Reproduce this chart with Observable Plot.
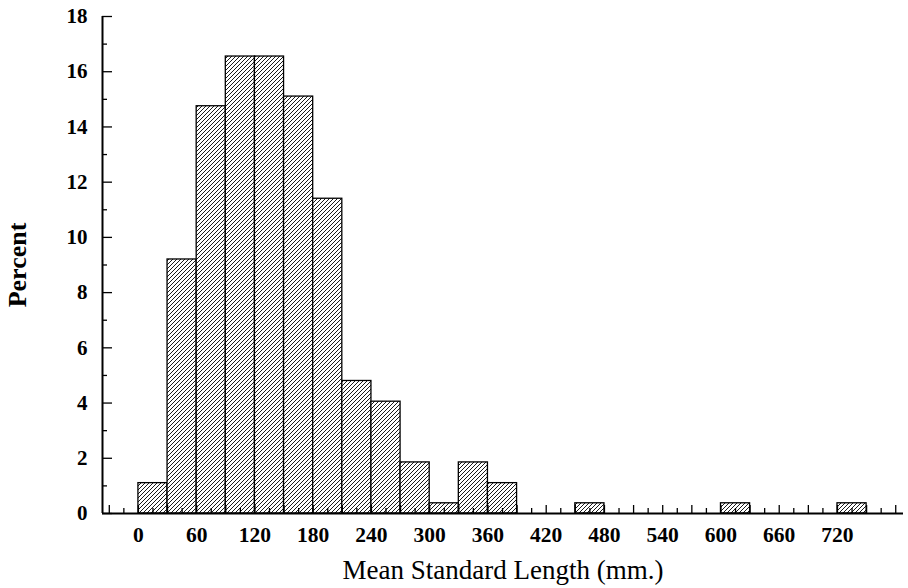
<!DOCTYPE html>
<html>
<head>
<meta charset="utf-8">
<script src="https://cdn.jsdelivr.net/npm/d3@7"></script>
<script src="https://cdn.jsdelivr.net/npm/@observablehq/plot@0.6"></script>
<style>
  html, body { margin: 0; padding: 0; background: #fff; }
</style>
</head>
<body>
<div id="chart"></div>
<script>
// Bin starts (mm) and percent of records in each 30 mm bin
const binStart = [0, 30, 60, 90, 120, 150, 180, 210, 240, 270, 300, 330, 360, 390, 420, 450, 480, 510, 540, 570, 600, 630, 660, 690, 720];
const percent  = [1.1, 9.2, 14.75, 16.55, 16.55, 15.1, 11.4, 4.8, 4.05, 1.85, 0.37, 1.85, 1.1, 0, 0, 0.37, 0, 0, 0, 0, 0.37, 0, 0, 0, 0.37];
const binWidth = 30;

const xTickLabels = [0, 60, 120, 180, 240, 300, 360, 420, 480, 540, 600, 660, 720];
const xMajorTicks = d3.range(-30, 781, 30);
const xMinorTicks = d3.range(-15, 781, 30);
const yTickLabels = [0, 2, 4, 6, 8, 10, 12, 14, 16, 18];
const yMinorTicks = [1, 3, 5, 7, 9, 11, 13, 15, 17];

const xTitle = "Mean Standard Length (mm.)";
const yTitle = "Percent";

const bins = binStart.map((b, i) => ({x1: b, x2: b + binWidth, pct: percent[i]})).filter(d => d.pct > 0);

const svg = Plot.plot({
  width: 908,
  height: 588,
  marginLeft: 102,
  marginRight: 5,
  marginTop: 16,
  marginBottom: 75,
  style: {fontFamily: "'Liberation Serif', 'DejaVu Serif', serif", background: "#fff", color: "#000"},
  x: {domain: [-37, 788]},
  y: {domain: [0, 18]},
  marks: [
    Plot.rectY(bins, {x1: "x1", x2: "x2", y: "pct", fill: "url(#hatch)", stroke: "#000", strokeWidth: 1.3}),
    // axis lines
    Plot.ruleY([0], {stroke: "#000", strokeWidth: 2}),
    Plot.ruleX([-37], {stroke: "#000", strokeWidth: 2}),
    // y ticks (pointing inward)
    Plot.axisY({ticks: yTickLabels, tickSize: -10, tickFormat: () => "", label: null, strokeWidth: 1.3}),
    Plot.axisY({ticks: yMinorTicks, tickSize: -5, tickFormat: () => "", label: null, strokeWidth: 1.3}),
    Plot.axisY({ticks: yTickLabels, tickSize: 0, tickPadding: 15, fontSize: 21, fontWeight: "bold", label: null}),
    // x ticks (pointing up)
    Plot.axisX({ticks: xMajorTicks, tickSize: -8, tickFormat: () => "", label: null, strokeWidth: 1.3}),
    Plot.axisX({ticks: xMinorTicks, tickSize: -5, tickFormat: () => "", label: null, strokeWidth: 1.3}),
    Plot.axisX({ticks: xTickLabels, tickSize: 0, tickPadding: 13, fontSize: 21.5, fontWeight: "bold", label: null}),
    // titles
    Plot.text([xTitle], {frameAnchor: "bottom", lineAnchor: "bottom", textAnchor: "middle", dy: 65, fontSize: 27, fill: "#000"}),
    Plot.text([yTitle], {frameAnchor: "left", lineAnchor: "bottom", textAnchor: "middle", rotate: -90, dx: -77, fontSize: 26, fontWeight: "bold", fill: "#000"})
  ]
});

const defs = d3.select(svg).insert("defs", ":first-child");
const pat = defs.append("pattern")
  .attr("id", "hatch")
  .attr("patternUnits", "userSpaceOnUse")
  .attr("width", 4)
  .attr("height", 4);
pat.append("rect").attr("width", 4).attr("height", 4).attr("fill", "#fff");
pat.append("path")
  .attr("d", "M-1,1 l2,-2 M0,4 l4,-4 M3,5 l2,-2")
  .attr("stroke", "#000")
  .attr("stroke-width", 0.9);

document.getElementById("chart").appendChild(svg);
</script>
</body>
</html>
